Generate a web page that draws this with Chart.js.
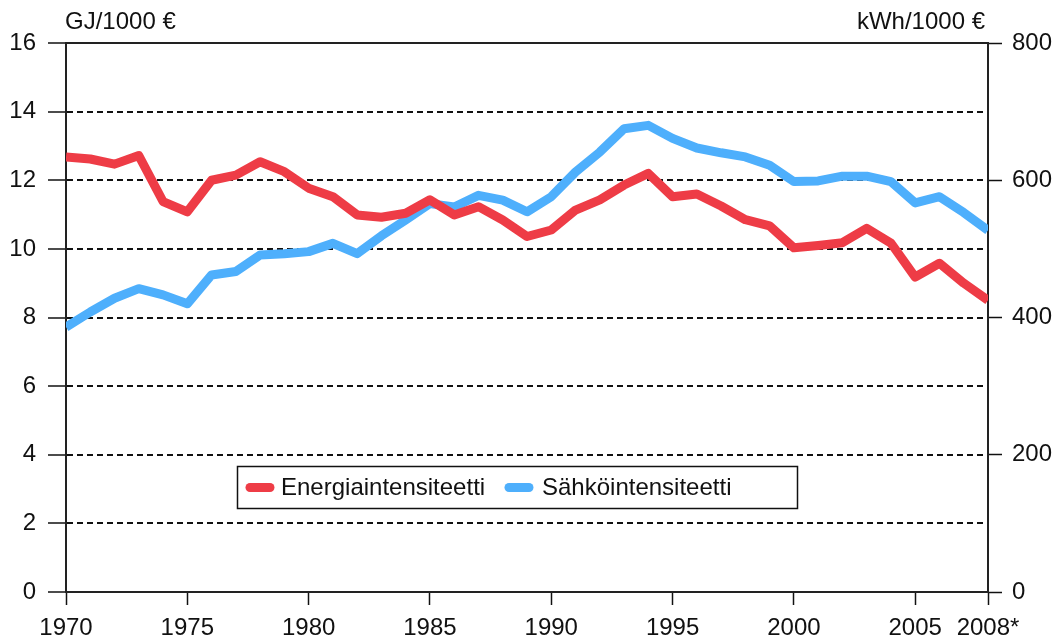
<!DOCTYPE html>
<html>
<head>
<meta charset="utf-8">
<script src="https://cdn.jsdelivr.net/npm/chart.js@4/dist/chart.umd.min.js"></script>
<style>
  html, body { margin: 0; padding: 0; background: #fff; }
  #wrap { width: 1056px; height: 643px; position: relative; }
</style>
</head>
<body>
<div id="wrap"><canvas id="c" width="1056" height="643"></canvas></div>
<script>
const years = [1970,1971,1972,1973,1974,1975,1976,1977,1978,1979,
               1980,1981,1982,1983,1984,1985,1986,1987,1988,1989,
               1990,1991,1992,1993,1994,1995,1996,1997,1998,1999,
               2000,2001,2002,2003,2004,2005,2006,2007,2008];
const energiaintensiteetti = [12.68,12.62,12.47,12.72,11.38,11.08,12.0,12.15,12.54,12.25,
                              11.77,11.52,10.99,10.92,11.04,11.43,10.99,11.23,10.84,10.36,
                              10.55,11.13,11.43,11.86,12.2,11.52,11.6,11.25,10.85,10.67,
                              10.03,10.1,10.18,10.6,10.17,9.18,9.58,9.0,8.5];
const sahkointensiteetti = [386,408,428,442,433,420,462,467,491,493,
                            496,508,493,519,542,566,561,578,571,554,
                            576,612,641,675,680,661,647,640,634,622,
                            598,599,606,606,598,567,576,553,527];
const seriesLabels = ['Energiaintensiteetti', 'Sähköintensiteetti'];
const xTickYears = [1970,1975,1980,1985,1990,1995,2000,2005,2008];
const xTickLabels = ['1970','1975','1980','1985','1990','1995','2000','2005','2008*'];
const leftTitle = 'GJ/1000 €';
const rightTitle = 'kWh/1000 €';

const FONT = '"Liberation Sans", Arial, sans-serif';
const RED = 'rgb(238,60,70)';
const BLUE = 'rgb(78,175,252)';

const extras = {
  id: 'extras',
  afterDraw(chart) {
    const ctx = chart.ctx;
    const ca = chart.chartArea;
    ctx.save();
    ctx.fillStyle = '#111';
    ctx.font = '24px ' + FONT;
    ctx.textBaseline = 'alphabetic';
    ctx.textAlign = 'left';
    ctx.fillText(leftTitle, ca.left - 1, 29);
    ctx.textAlign = 'right';
    ctx.fillText(rightTitle, ca.right - 3, 29);

    // legend
    const bx = 237.5, by = 466.5, bw = 560, bh = 42;
    ctx.fillStyle = '#fff';
    ctx.fillRect(bx, by, bw, bh);
    ctx.lineWidth = 1.5;
    ctx.strokeStyle = '#111';
    ctx.strokeRect(bx, by, bw, bh);
    const items = [
      {x: 246, tx: 281, ds: chart.data.datasets[0]},
      {x: 505, tx: 542, ds: chart.data.datasets[1]}
    ];
    const cy = by + bh / 2;
    ctx.textAlign = 'left';
    ctx.textBaseline = 'middle';
    items.forEach(it => {
      ctx.beginPath();
      ctx.strokeStyle = it.ds.borderColor;
      ctx.lineWidth = 9;
      ctx.lineCap = 'round';
      ctx.moveTo(it.x + 4, cy);
      ctx.lineTo(it.x + 24, cy);
      ctx.stroke();
      ctx.fillStyle = '#111';
      ctx.font = '24px ' + FONT;
      ctx.fillText(it.ds.label, it.tx, cy + 1);
    });
    ctx.restore();
  }
};

new Chart(document.getElementById('c'), {
  type: 'line',
  data: {
    datasets: [
      {
        label: seriesLabels[0],
        data: years.map((y, i) => ({x: y, y: energiaintensiteetti[i]})),
        borderColor: RED,
        backgroundColor: RED,
        borderWidth: 9,
        pointRadius: 0,
        tension: 0,
        borderJoinStyle: 'round',
        borderCapStyle: 'butt',
        yAxisID: 'y'
      },
      {
        label: seriesLabels[1],
        data: years.map((y, i) => ({x: y, y: sahkointensiteetti[i]})),
        borderColor: BLUE,
        backgroundColor: BLUE,
        borderWidth: 9,
        pointRadius: 0,
        tension: 0,
        borderJoinStyle: 'round',
        borderCapStyle: 'butt',
        yAxisID: 'y1'
      }
    ]
  },
  options: {
    responsive: false,
    animation: false,
    events: [],
    layout: { padding: 0 },
    plugins: { legend: { display: false }, tooltip: { enabled: false }, title: { display: false } },
    scales: {
      x: {
        type: 'linear',
        position: 'bottom',
        min: 1970,
        max: 2008,
        afterBuildTicks(scale) { scale.ticks = xTickYears.map(v => ({value: v})); },
        afterFit(scale) { scale.height = 51; },
        ticks: {
          autoSkip: false,
          maxRotation: 0,
          padding: 9,
          color: '#111',
          font: { family: FONT, size: 24 },
          callback: (v, i) => xTickLabels[i]
        },
        grid: { drawOnChartArea: false, tickLength: 13, tickColor: '#111', tickWidth: 1.5 },
        border: { color: '#222', width: 2 }
      },
      xTop: {
        type: 'linear',
        position: 'top',
        min: 1970,
        max: 2008,
        afterFit(scale) { scale.height = 43; },
        ticks: { display: false },
        grid: { display: false, drawTicks: false },
        border: { display: true, color: '#222', width: 2 }
      },
      y: {
        type: 'linear',
        position: 'left',
        min: 0,
        max: 16,
        afterFit(scale) { scale.width = 66; },
        ticks: { stepSize: 2, padding: 12, color: '#111', font: { family: FONT, size: 24 } },
        grid: { color: '#111', lineWidth: 2, tickLength: 18, tickColor: '#111', tickWidth: 1.5, tickBorderDash: [] },
        border: { color: '#222', width: 2, dash: [6, 4] }
      },
      y1: {
        type: 'linear',
        position: 'right',
        min: 0,
        max: 800,
        afterFit(scale) { scale.width = 68; },
        ticks: { stepSize: 200, padding: 10, color: '#111', font: { family: FONT, size: 24 } },
        grid: { drawOnChartArea: false, tickLength: 14, tickColor: '#111', tickWidth: 1.5 },
        border: { color: '#222', width: 2 }
      }
    }
  },
  plugins: [extras]
});
</script>
</body>
</html>
